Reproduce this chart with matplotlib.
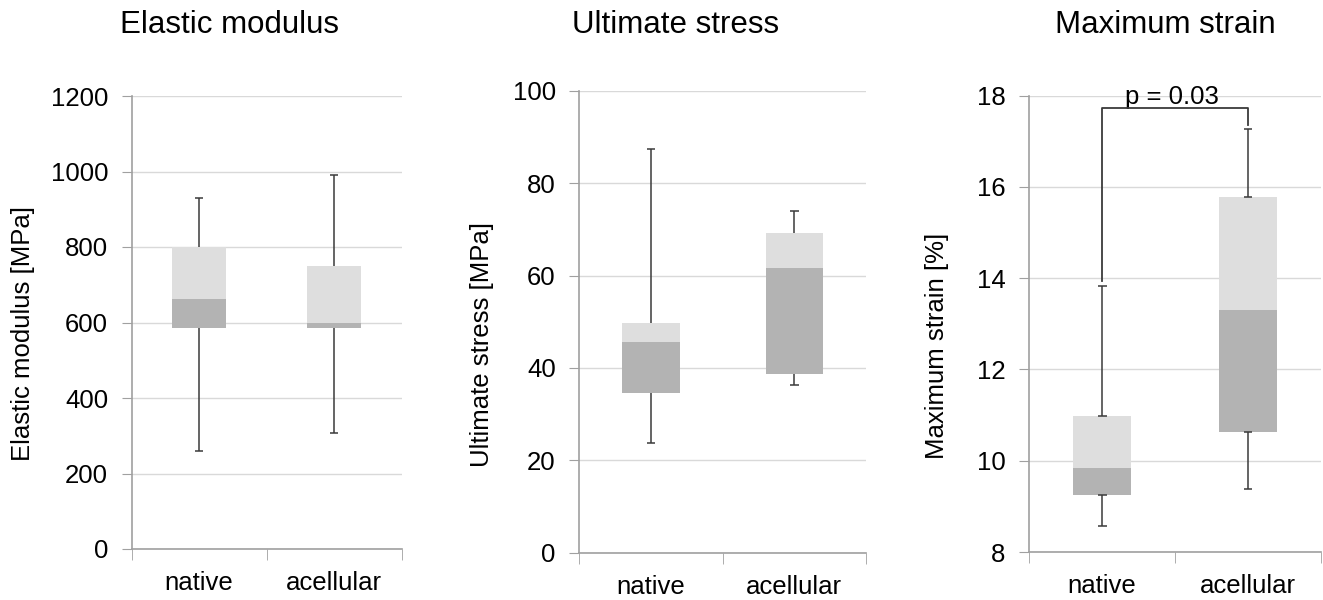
import numpy as np
import matplotlib
matplotlib.use('Agg')
import matplotlib.pyplot as plt

plt.rcParams['font.family'] = ['Liberation Sans', 'DejaVu Sans']

groups = ['native', 'acellular']

# box plot stats per panel: min, q1, median, q3, max
modulus_min = [260, 306]
modulus_q1 = [585, 586]
modulus_med = [661, 600]
modulus_q3 = [800, 750]
modulus_max = [930, 992]

stress_min = [23.7, 36.4]
stress_q1 = [34.6, 38.7]
stress_med = [45.7, 61.7]
stress_q3 = [49.7, 69.1]
stress_max = [87.4, 74.0]

strain_min = [8.57, 9.37]
strain_q1 = [9.26, 10.64]
strain_med = [9.85, 13.31]
strain_q3 = [10.98, 15.79]
strain_max = [13.84, 17.28]

titles = ['Elastic modulus', 'Ultimate stress', 'Maximum strain']
ylabels = ['Elastic modulus [MPa]', 'Ultimate stress [MPa]', 'Maximum strain [%]']
yticks = [np.arange(0, 1201, 200), np.arange(0, 101, 20), np.arange(8, 19, 2)]

p_text = 'p = 0.03'
bracket_y = [13.95, 17.72, 17.72, 17.36]

stats = [
    (modulus_min, modulus_q1, modulus_med, modulus_q3, modulus_max),
    (stress_min, stress_q1, stress_med, stress_q3, stress_max),
    (strain_min, strain_q1, strain_med, strain_q3, strain_max),
]

fig = plt.figure(figsize=(13.23, 6), dpi=100)

ax_pos = [
    [0.0995, 0.085, 0.2041, 0.755],
    [0.4379, 0.0788, 0.2167, 0.770],
    [0.7780, 0.080, 0.2203, 0.7605],
]
label_xy = [(-0.403, 0.475), (-0.339, 0.45), (-0.317, 0.451)]
title_x = [230, 676, 1165]
inner_caps = [False, False, True]

light = '#dedede'
dark = '#b3b3b3'
line_c = '#3a3a3a'
spine_c = '#a0a0a0'
grid_c = '#d9d9d9'
fs = 18.5

for i in range(3):
    ax = fig.add_axes(ax_pos[i])
    mn, q1, med, q3, mx = [np.array(s, dtype=float) for s in stats[i]]
    x = np.arange(len(groups))
    w = 0.4

    ax.bar(x, med - q1, w, bottom=q1, color=dark, zorder=3)
    ax.bar(x, q3 - med, w, bottom=med, color=light, zorder=3)

    ax.vlines(x, q3, mx, color=line_c, lw=1.1, zorder=2)
    ax.vlines(x, mn, q1, color=line_c, lw=1.1, zorder=2)
    cap = 0.03
    ax.hlines(mx, x - cap, x + cap, color=line_c, lw=1.1, zorder=4)
    ax.hlines(mn, x - cap, x + cap, color=line_c, lw=1.1, zorder=4)
    if inner_caps[i]:
        ax.hlines(q3, x - cap, x + cap, color=line_c, lw=1.1, zorder=4)
        ax.hlines(q1, x - cap, x + cap, color=line_c, lw=1.1, zorder=4)

    ax.set_xlim(-0.5, 1.5)
    ax.set_ylim(yticks[i][0], yticks[i][-1])
    ax.set_yticks(yticks[i])
    ax.set_xticks(x)
    ax.set_xticklabels(groups, fontsize=fs)
    ax.set_xticks([-0.5, 0.5, 1.5], minor=True)
    ax.tick_params(axis='x', which='major', length=0, pad=16)
    ax.tick_params(axis='x', which='minor', length=8, color=spine_c, direction='out')
    ax.tick_params(axis='y', length=7, color=spine_c, labelsize=fs, pad=10)

    ax.yaxis.grid(True, color=grid_c, lw=1)
    ax.set_axisbelow(True)
    for s in ['top', 'right']:
        ax.spines[s].set_visible(False)
    for s in ['left', 'bottom']:
        ax.spines[s].set_color(spine_c)
        ax.spines[s].set_linewidth(1.2)

    ax.set_ylabel(ylabels[i], fontsize=fs, va='center')
    ax.yaxis.set_label_coords(*label_xy[i])

    fig.text(title_x[i] / 1323, 1 - 25 / 600, titles[i], fontsize=22.5,
             ha='center', va='center')

    if i == 2:
        ax.plot([0, 0, 1, 1], bracket_y, color=line_c, lw=1.3, clip_on=False, zorder=5)
        ax.text(0.477, 17.82, p_text, fontsize=fs, ha='center', va='baseline',
                clip_on=False)

fig.savefig('out.png', dpi=100)
